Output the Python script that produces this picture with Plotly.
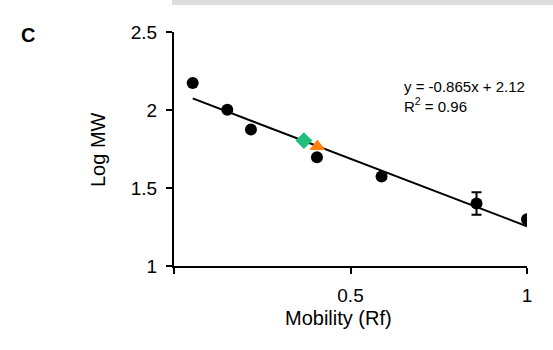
import plotly.graph_objects as go

# Data
rf = [0.053, 0.151, 0.218, 0.405, 0.588, 0.857, 1.0]
log_mw = [2.173, 2.001, 1.875, 1.697, 1.574, 1.401, 1.299]
err = [0, 0, 0, 0, 0, 0.072, 0]
sample_a_rf = [0.368]
sample_a_logmw = [1.804]
sample_b_rf = [0.406]
sample_b_logmw = [1.766]
slope = -0.865
intercept = 2.12
r2 = 0.96
fit_x = [0.053, 1.0]
fit_y = [slope * x + intercept for x in fit_x]

FONT = "Liberation Sans, Arial, sans-serif"
W, H = 553, 350
L, R, T, B = 174, 26, 32, 84
PW, PH = W - L - R, H - T - B


def px(p):
    return (p - L) / PW


def py(p):
    return (H - B - p) / PH


fig = go.Figure()
fig.add_trace(go.Scatter(x=fit_x, y=fit_y, mode="lines",
                         line=dict(color="black", width=2), hoverinfo="skip"))
fig.add_trace(go.Scatter(x=rf, y=log_mw, mode="markers",
                         marker=dict(color="black", size=12),
                         error_y=dict(type="data", array=err, visible=True,
                                      color="black", thickness=2, width=5)))
fig.add_trace(go.Scatter(x=sample_a_rf, y=sample_a_logmw, mode="markers",
                         marker=dict(color="#1fbf7a", symbol="diamond", size=13)))
fig.add_trace(go.Scatter(x=sample_b_rf, y=sample_b_logmw, mode="markers",
                         marker=dict(color="#ff7f0e", symbol="triangle-up", size=14)))

axis_common = dict(showline=True, linecolor="black", linewidth=2,
                   ticks="outside", tickcolor="black", tickwidth=2, ticklen=6,
                   showgrid=False, zeroline=False, automargin=False,
                   tickfont=dict(family=FONT, size=19, color="black"))

fig.update_xaxes(range=[0, 1], tickvals=[0, 0.5, 1], ticktext=["", "0.5", "1"],
                 ticklabelstandoff=5, **axis_common)
fig.update_yaxes(range=[1, 2.5], tickvals=[1, 1.5, 2, 2.5],
                 ticktext=["1", "1.5", "2", "2.5"], ticklabelstandoff=5,
                 **axis_common)

fig.add_annotation(x=px(338), y=py(318), xref="paper", yref="paper",
                   text="Mobility (Rf)", showarrow=False,
                   xanchor="center", yanchor="middle",
                   font=dict(family=FONT, size=20, color="black"))
fig.add_annotation(x=px(98), y=py(150), xref="paper", yref="paper",
                   text="Log MW", showarrow=False, textangle=-90,
                   xanchor="center", yanchor="middle",
                   font=dict(family=FONT, size=20, color="black"))
fig.add_annotation(x=0.645, y=2.085, xref="x", yref="y", xanchor="left", yanchor="middle",
                   text=f"y = {slope}x + {intercept}<br>R<sup>2</sup> = {r2}",
                   showarrow=False, align="left",
                   font=dict(family=FONT, size=15, color="black"))
fig.add_annotation(x=px(28), y=py(35), xref="paper", yref="paper",
                   text="<b>C</b>", showarrow=False, xanchor="center", yanchor="middle",
                   font=dict(family=FONT, size=20, color="black"))
fig.add_shape(type="rect", xref="paper", yref="paper",
              x0=px(172), x1=px(560), y0=py(5), y1=py(-5),
              fillcolor="#dcdcdc", line=dict(width=0), layer="above")

fig.update_layout(width=W, height=H, showlegend=False,
                  margin=dict(l=L, r=R, t=T, b=B),
                  paper_bgcolor="white", plot_bgcolor="white",
                  font=dict(family=FONT, size=15, color="black"))
fig.write_html("out.html", config={"displayModeBar": False},
               post_script="document.body.style.margin='0px';")
